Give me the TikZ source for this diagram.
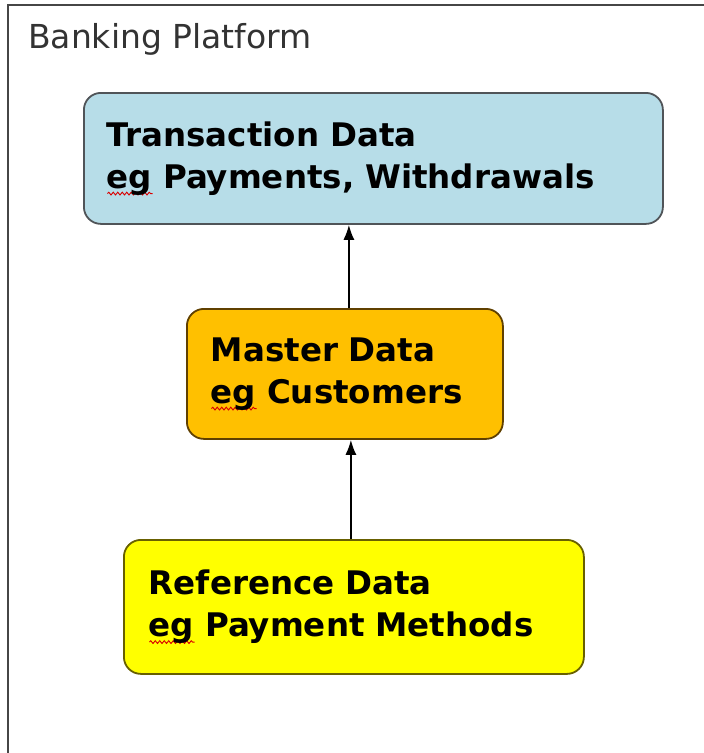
\documentclass[tikz,border=0pt]{standalone}
\usepackage{fontspec}
\setmainfont{DejaVu Sans}
\usepackage{tikz}
\usetikzlibrary{arrows.meta,decorations.pathmorphing}
\definecolor{txfill}{RGB}{183,221,232}
\definecolor{txline}{RGB}{80,84,88}
\definecolor{mdfill}{RGB}{255,192,0}
\definecolor{mdline}{RGB}{96,64,0}
\definecolor{rdfill}{RGB}{255,255,0}
\definecolor{rdline}{RGB}{104,96,0}
\definecolor{frameline}{RGB}{70,70,70}
% red wavy spell-check mark under a word
\newlength\spellwd
\newcommand\spellmark[1]{\leavevmode\settowidth\spellwd{#1}\rlap{\tikz[baseline=0pt, x=1pt, y=1pt]
	\draw[red!85!black, line width=0.9pt, sharp corners, decorate, decoration={snake, amplitude=1.4pt, segment length=4.5pt}]
		(0,-5.5) -- (\spellwd,-5.5);}#1}
\tikzset{
    raw data entry/.style={rectangle, draw, line width=1.8pt, rounded corners=17pt, anchor=north west, align=left,
        inner ysep=0pt, font=\fontsize{32.5}{42}\selectfont\bfseries},
    tx entry/.style={raw data entry, draw=txline, fill=txfill, inner xsep=23pt, text width=533pt, minimum height=131pt},
    md entry/.style={raw data entry, draw=mdline, fill=mdfill, inner xsep=24pt, text width=268pt, minimum height=130pt},
    rd entry/.style={raw data entry, draw=rdline, fill=rdfill, inner xsep=25pt, text width=410pt, minimum height=134pt},
    title/.style={anchor=base west, inner sep=0pt, text=black!80, font=\fontsize{33}{40}\selectfont},
    up link/.style={-{Latex[length=15pt,width=11pt]}, line width=1.7pt}
}

\begin{document}
\begin{tikzpicture}[x=1pt, y=-1pt]
	\useasboundingbox (0,0) rectangle (704,753);
	% platform frame, open at right and bottom
	\draw[frameline, line width=2.2pt] (8,753) -- (8,5) -- (704,5);
	\node[title] (platform) at (28,48) {Banking Platform};
	\node[tx entry] (trans) at (83,92) {Transaction Data\\\spellmark{eg} Payments, Withdrawals};
	\node[md entry] (master) at (186,308) {Master Data\\\spellmark{eg} Customers};
	\node[rd entry] (refdata) at (123,539) {Reference Data\\\spellmark{eg} Payment Methods};
	\draw[up link] ([xshift=4pt]master.north) -- ([xshift=4pt]master.north |- trans.south);
	\draw[up link] ([xshift=-3pt]refdata.north) -- ([xshift=-3pt]refdata.north |- master.south);
\end{tikzpicture}
\end{document}
